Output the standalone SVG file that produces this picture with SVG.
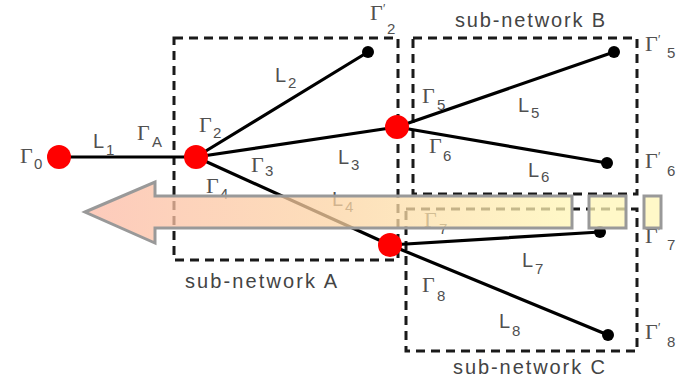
<svg xmlns="http://www.w3.org/2000/svg" width="681" height="379" viewBox="0 0 681 379">
  <style>
    .box { fill: none; stroke: #1a1a1a; stroke-width: 3; stroke-dasharray: 9 6; }
    .line { stroke: #000; stroke-width: 3.2; stroke-linecap: round; }
    .port { fill: #ff0000; }
    .end { fill: #000; }
    .g { font-family: "Liberation Serif", "Times New Roman", serif; font-size: 22px; fill: #505050; }
    .l { font-family: "Liberation Sans", Arial, sans-serif; font-size: 20px; fill: #505050; }
    .s { font-family: "Liberation Sans", Arial, sans-serif; font-size: 15px; fill: #505050; }
    .p { font-family: "Liberation Sans", Arial, sans-serif; font-size: 12px; fill: #505050; }
    .cap { font-family: "Liberation Sans", Arial, sans-serif; font-size: 20px; fill: #444; }
    .arrow { stroke: #999; stroke-width: 3; fill-opacity: 0.75; }
  </style>
  <defs>
    <linearGradient id="flow" gradientUnits="userSpaceOnUse" x1="85" y1="0" x2="572" y2="0">
      <stop offset="0" stop-color="#fcb9a5"/>
      <stop offset="0.5" stop-color="#fcd3a3"/>
      <stop offset="1" stop-color="#fff6b5"/>
    </linearGradient>
  </defs>
  <rect width="681" height="379" fill="#fff"/>

  <!-- sub-network boundaries -->
  <g id="subnet-a">
    <rect class="box" x="174" y="38" width="224" height="222"/>
    <text class="cap" x="185" y="288" textLength="152">sub-network A</text>
  </g>
  <g id="subnet-b">
    <rect class="box" x="413" y="38" width="224" height="156"/>
    <text class="cap" x="455" y="27" textLength="150">sub-network B</text>
  </g>
  <g id="subnet-c">
    <rect class="box" x="406" y="209" width="231" height="142"/>
    <text class="cap" x="453" y="374" textLength="152">sub-network C</text>
  </g>

  <!-- transmission lines -->
  <g id="connectors">
    <line class="line" x1="59" y1="157" x2="196" y2="157"/>
    <line class="line" x1="196" y1="157" x2="368" y2="52"/>
    <line class="line" x1="196" y1="157" x2="397" y2="127"/>
    <line class="line" x1="196" y1="157" x2="390" y2="245"/>
    <line class="line" x1="397" y1="127" x2="614" y2="52"/>
    <line class="line" x1="397" y1="127" x2="607" y2="163"/>
    <line class="line" x1="390" y1="245" x2="600" y2="232"/>
    <line class="line" x1="390" y1="245" x2="608" y2="335"/>
  </g>

  <!-- line labels -->
  <g id="line-labels">
    <text class="l" x="93" y="148">L</text><text class="s" x="106" y="155">1</text>
    <text class="l" x="275" y="82">L</text><text class="s" x="288" y="88">2</text>
    <text class="l" x="338" y="164">L</text><text class="s" x="351" y="170">3</text>
    <text class="l" x="332" y="206">L</text><text class="s" x="345" y="212">4</text>
    <text class="l" x="518" y="112">L</text><text class="s" x="531" y="118">5</text>
    <text class="l" x="528" y="177">L</text><text class="s" x="541" y="182">6</text>
    <text class="l" x="522" y="267">L</text><text class="s" x="535" y="274">7</text>
    <text class="l" x="499" y="328">L</text><text class="s" x="512" y="336">8</text>
  </g>

  <!-- reflection coefficient labels -->
  <g id="gamma-labels">
    <text class="g" x="20" y="163">Γ</text><text class="s" x="34" y="169">0</text>
    <text class="g" x="137" y="140">Γ</text><text class="s" x="152" y="147">A</text>
    <text class="g" x="199" y="132">Γ</text><text class="s" x="213" y="138">2</text>
    <text class="g" x="251" y="172">Γ</text><text class="s" x="265" y="176">3</text>
    <text class="g" x="206" y="193">Γ</text><text class="s" x="220" y="199">4</text>
    <text class="g" x="422" y="103">Γ</text><text class="s" x="437" y="110">5</text>
    <text class="g" x="429" y="153">Γ</text><text class="s" x="443" y="161">6</text>
    <text class="g" x="424" y="227">Γ</text><text class="s" x="439" y="234">7</text>
    <text class="g" x="422" y="292">Γ</text><text class="s" x="437" y="301">8</text>

    <text class="g" x="370" y="20">Γ</text><text class="p" x="383" y="13">′</text><text class="s" x="387" y="34">2</text>
    <text class="g" x="645" y="51">Γ</text><text class="p" x="658" y="44">′</text><text class="s" x="667" y="58">5</text>
    <text class="g" x="645" y="168">Γ</text><text class="p" x="658" y="161">′</text><text class="s" x="667" y="176">6</text>
    <text class="g" x="645" y="243">Γ</text><text class="p" x="658" y="236">′</text><text class="s" x="667" y="250">7</text>
    <text class="g" x="645" y="339">Γ</text><text class="p" x="658" y="332">′</text><text class="s" x="667" y="347">8</text>
  </g>

  <!-- port nodes -->
  <g id="port-0"><circle class="port" cx="59" cy="157" r="12"/></g>
  <g id="port-2"><circle class="port" cx="196" cy="157" r="12"/></g>
  <g id="port-b"><circle class="port" cx="397" cy="127" r="12"/></g>
  <g id="port-c"><circle class="port" cx="390" cy="245" r="12"/></g>

  <!-- terminations -->
  <g id="term-2"><circle class="end" cx="368" cy="52" r="6"/></g>
  <g id="term-5"><circle class="end" cx="614" cy="52" r="6"/></g>
  <g id="term-6"><circle class="end" cx="607" cy="163" r="6"/></g>
  <g id="term-7"><circle class="end" cx="600" cy="232" r="6"/></g>
  <g id="term-8"><circle class="end" cx="608" cy="335" r="6"/></g>

  <!-- broad flow arrow laid over the network -->
  <g id="flow-arrow">
    <path class="arrow" fill="url(#flow)" d="M85,212 L155,182 L155,196 L572,196 L572,228 L155,228 L155,243 Z"/>
    <rect class="arrow" fill="#fff6b5" x="589" y="196" width="37" height="32"/>
    <rect class="arrow" fill="#fff6b5" x="644" y="196" width="17" height="32"/>
  </g>
</svg>
